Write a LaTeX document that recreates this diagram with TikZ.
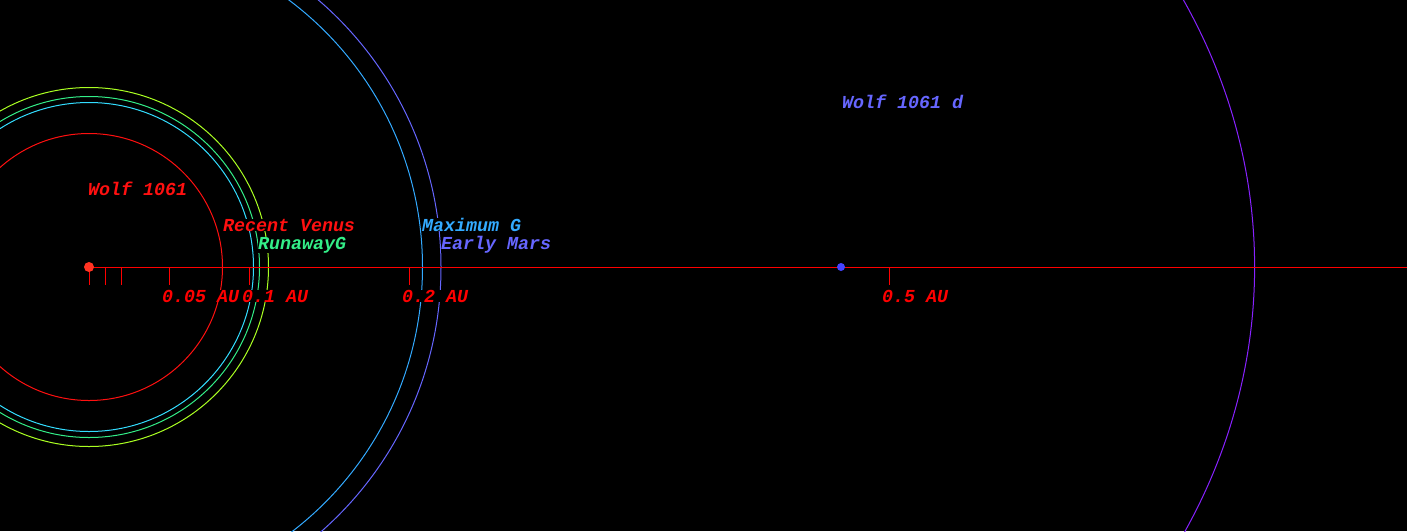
\documentclass[tikz,border=0pt]{standalone}
\usepackage{fontspec}
\newfontfamily\labelfont{Liberation Mono}
\definecolor{starred}{HTML}{FF3322}
\definecolor{axred}{HTML}{FF0000}
\definecolor{venusred}{HTML}{FF1010}
\definecolor{cyanc}{HTML}{33DDFF}
\definecolor{greenc}{HTML}{33EE88}
\definecolor{limec}{HTML}{AAFF22}
\definecolor{maxblue}{HTML}{33AAFF}
\definecolor{marsblue}{HTML}{6666FF}
\definecolor{violetc}{HTML}{8822FF}
\definecolor{planetblue}{HTML}{4444FF}
\tikzset{
  orbit/.style={line width=1pt},
  lbl/.style={font=\labelfont\bfseries\itshape\fontsize{18.3}{20}\selectfont, inner sep=0pt, fill=black, anchor=base west},
  tickline/.style={axred, line width=1pt}
}
\begin{document}
\begin{tikzpicture}[x=1pt,y=-1pt]
\fill[black] (0,0) rectangle (1407,531);
\useasboundingbox (0,0) rectangle (1407,531);
\coordinate (c) at (89,267);
\coordinate (ec) at (502.6,267);
% orbits
\draw[orbit, venusred] (c) circle (133.5);
\draw[orbit, cyanc] (c) circle (164.5);
\draw[orbit, greenc] (c) circle (170.5);
\draw[orbit, limec] (c) circle (179.5);
\draw[orbit, maxblue] (c) circle (333.5);
\draw[orbit, marsblue] (c) circle (352);
\draw[orbit, violetc] (ec) ellipse [x radius=752, y radius=628];
% axis
\coordinate (axisend) at (1407,267);
\draw[tickline] (c) -- (axisend);
% ticks
\foreach \n/\xx in {t0/89, t1/105, t2/121, t3/169, t4/249, t5/409, t6/889}{
  \coordinate (\n a) at (\xx,267);
  \coordinate (\n b) at (\xx,285);
  \draw[tickline] (\n a) -- (\n b);
}
% bodies
\node[circle, fill=starred, minimum size=10pt, inner sep=0pt] (star) at (c) {};
\node[circle, fill=planetblue, minimum size=8pt, inner sep=0pt] (planet) at (841,267) {};
% labels
\node[lbl, text=venusred] (wolf) at (88,195) {Wolf 1061};
\node[lbl, text=venusred] (venus) at (223,231) {Recent Venus};
\node[lbl, text=greenc] (runaway) at (258,249) {RunawayG};
\node[lbl, text=maxblue] (maxg) at (422,231) {Maximum G};
\node[lbl, text=marsblue] (mars) at (441,249) {Early Mars};
\node[lbl, text=marsblue] (wolfd) at (842,108) {Wolf 1061 d};
\node[lbl, text=axred] (au005) at (162,302) {0.05 AU};
\node[lbl, text=axred] (au01) at (242,302) {0.1 AU};
\node[lbl, text=axred] (au02) at (402,302) {0.2 AU};
\node[lbl, text=axred] (au05) at (882,302) {0.5 AU};
\end{tikzpicture}
\end{document}
